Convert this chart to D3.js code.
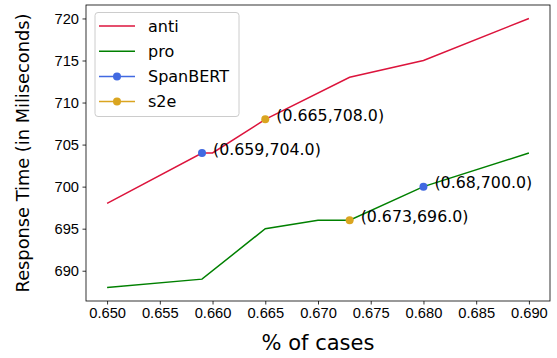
<!DOCTYPE html>
<html>
<head>
<meta charset="utf-8">
<script src="https://cdn.jsdelivr.net/npm/d3@7"></script>
<style>
  body { margin: 0; background: #fff; }
  svg { display: block; font-family: "DejaVu Sans", sans-serif; }
</style>
</head>
<body>
<svg width="557" height="358"></svg>
<script>
  // data
  var antiX = [0.650, 0.659, 0.660, 0.665, 0.673, 0.680, 0.690];
  var antiY = [698, 704, 704, 708, 713, 715, 720];
  var proX = [0.650, 0.659, 0.665, 0.670, 0.673, 0.680, 0.690];
  var proY = [688, 689, 695, 696, 696, 700, 704];
  var spanbertX = [0.659, 0.68];
  var spanbertY = [704, 700];
  var s2eX = [0.665, 0.673];
  var s2eY = [708, 696];
  var xTicks = [0.650, 0.655, 0.660, 0.665, 0.670, 0.675, 0.680, 0.685, 0.690];
  var yTicks = [690, 695, 700, 705, 710, 715, 720];

  var margin = {left: 86, right: 7, top: 5, bottom: 57};
  var W = 557, H = 358;
  var svg = d3.select("svg");

  var x = d3.scaleLinear().domain([0.648, 0.692]).range([margin.left, W - margin.right]);
  var y = d3.scaleLinear().domain([686.4, 721.6]).range([H - margin.bottom, margin.top]);

  var xAxis = svg.append("g")
    .attr("transform", "translate(0," + (H - margin.bottom) + ")")
    .call(d3.axisBottom(x).tickValues(xTicks).tickFormat(d3.format(".3f")).tickSizeInner(3.5).tickSizeOuter(0).tickPadding(3.5));
  var yAxis = svg.append("g")
    .attr("transform", "translate(" + margin.left + ",0)")
    .call(d3.axisLeft(y).tickValues(yTicks).tickFormat(d3.format("d")).tickSizeInner(3.5).tickSizeOuter(0).tickPadding(3.5));
  [xAxis, yAxis].forEach(function(g) {
    g.select(".domain").remove();
    g.selectAll("line").attr("stroke", "#000").attr("stroke-width", 0.8);
    g.selectAll("text").style("font-size", "14.7px").attr("fill", "#000");
  });

  // frame
  svg.append("rect")
    .attr("x", margin.left).attr("y", margin.top)
    .attr("width", W - margin.left - margin.right)
    .attr("height", H - margin.top - margin.bottom)
    .attr("fill", "none").attr("stroke", "#000").attr("stroke-width", 0.8);

  var line = d3.line().x(function(d) { return x(d[0]); }).y(function(d) { return y(d[1]); });

  svg.append("path").datum(d3.zip(antiX, antiY))
    .attr("d", line).attr("fill", "none").attr("stroke", "crimson").attr("stroke-width", 1.5);
  svg.append("path").datum(d3.zip(proX, proY))
    .attr("d", line).attr("fill", "none").attr("stroke", "green").attr("stroke-width", 1.5);

  var pts = d3.zip(spanbertX, spanbertY).map(function(p) { return {p: p, c: "royalblue"}; })
    .concat(d3.zip(s2eX, s2eY).map(function(p) { return {p: p, c: "goldenrod"}; }));

  svg.selectAll("circle.pt").data(pts).enter().append("circle")
    .attr("class", "pt")
    .attr("cx", function(d) { return x(d.p[0]); })
    .attr("cy", function(d) { return y(d.p[1]); })
    .attr("r", 4)
    .attr("fill", function(d) { return d.c; });

  svg.selectAll("text.ann").data(pts).enter().append("text")
    .attr("class", "ann")
    .attr("x", function(d) { return x(d.p[0]) + 11; })
    .attr("y", function(d) { return y(d.p[1]) + 1.5; })
    .style("font-size", "15.8px")
    .text(function(d) { return "(" + d.p[0] + "," + d.p[1].toFixed(1) + ")"; });

  // legend
  var legend = svg.append("g");
  legend.append("rect")
    .attr("x", 95).attr("y", 12.5).attr("width", 144).attr("height", 104)
    .attr("rx", 3).attr("fill", "#fff").attr("fill-opacity", 0.8)
    .attr("stroke", "#ccc").attr("stroke-width", 1);
  var items = [
    {name: "anti", c: "crimson", m: false},
    {name: "pro", c: "green", m: false},
    {name: "SpanBERT", c: "royalblue", m: true},
    {name: "s2e", c: "goldenrod", m: true}
  ];
  var row = legend.selectAll("g.item").data(items).enter().append("g")
    .attr("class", "item")
    .attr("transform", function(d, i) { return "translate(0," + (26 + i * 25.2) + ")"; });
  row.append("line").attr("x1", 99).attr("x2", 135)
    .attr("stroke", function(d) { return d.c; }).attr("stroke-width", 1.5);
  row.filter(function(d) { return d.m; }).append("circle")
    .attr("cx", 117).attr("r", 4).attr("fill", function(d) { return d.c; });
  row.append("text").attr("x", 148).attr("dy", "0.35em")
    .style("font-size", "16px").text(function(d) { return d.name; });

  // axis labels
  svg.append("text")
    .attr("x", (margin.left + W - margin.right) / 2).attr("y", 350)
    .attr("text-anchor", "middle").style("font-size", "21px")
    .text("% of cases");
  svg.append("text")
    .attr("transform", "translate(29," + ((margin.top + H - margin.bottom) / 2) + ") rotate(-90)")
    .attr("text-anchor", "middle").style("font-size", "17.8px")
    .text("Response Time (in Miliseconds)");
</script>
</body>
</html>
